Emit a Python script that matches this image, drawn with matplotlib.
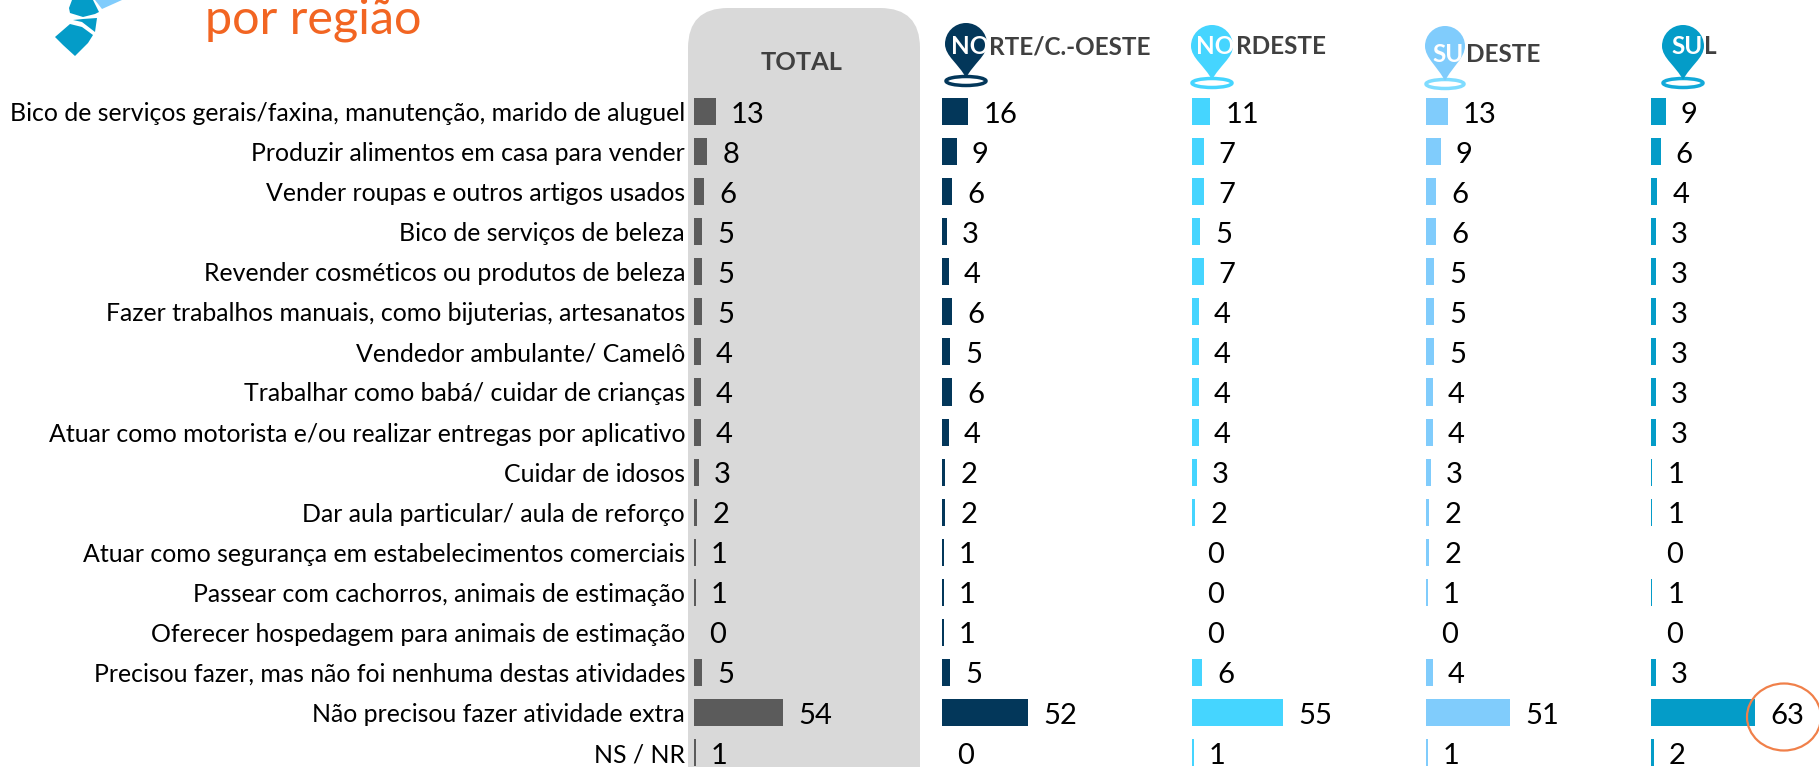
import numpy as np
import matplotlib
matplotlib.use('Agg')
import matplotlib.pyplot as plt
from matplotlib.patches import Ellipse, FancyBboxPatch, Polygon, PathPatch
from matplotlib.path import Path

W, H = 1819, 767

labels = ['Bico de serviços gerais/faxina, manutenção, marido de aluguel',
          'Produzir alimentos em casa para vender',
          'Vender roupas e outros artigos usados',
          'Bico de serviços de beleza',
          'Revender cosméticos ou produtos de beleza',
          'Fazer trabalhos manuais, como bijuterias, artesanatos',
          'Vendedor ambulante/ Camelô',
          'Trabalhar como babá/ cuidar de crianças',
          'Atuar como motorista e/ou realizar entregas por aplicativo',
          'Cuidar de idosos',
          'Dar aula particular/ aula de reforço',
          'Atuar como segurança em estabelecimentos comerciais',
          'Passear com cachorros, animais de estimação',
          'Oferecer hospedagem para animais de estimação',
          'Precisou fazer, mas não foi nenhuma destas atividades',
          'Não precisou fazer atividade extra',
          'NS / NR']

total = [13, 8, 6, 5, 5, 5, 4, 4, 4, 3, 2, 1, 1, 0, 5, 54, 1]
norte = [16, 9, 6, 3, 4, 6, 5, 6, 4, 2, 2, 1, 1, 1, 5, 52, 0]
nordeste = [11, 7, 7, 5, 7, 4, 4, 4, 4, 3, 2, 0, 0, 0, 6, 55, 1]
sudeste = [13, 9, 6, 6, 5, 5, 5, 4, 4, 3, 2, 2, 1, 0, 4, 51, 1]
sul = [9, 6, 4, 3, 3, 3, 3, 3, 3, 1, 1, 0, 1, 0, 3, 63, 2]

plt.rcParams['font.family'] = ['Lato', 'DejaVu Sans']

fig = plt.figure(figsize=(W / 100, H / 100), dpi=100)

# full figure layer in pixel coordinates, y going down
bg = fig.add_axes([0, 0, 1, 1])
bg.set_xlim(0, W)
bg.set_ylim(H, 0)
bg.axis('off')

# grey panel behind the total column
bg.add_patch(FancyBboxPatch((688 + 40, 8 + 40), 232 - 80, 900, boxstyle='round,pad=40,rounding_size=40',
                            fc='#D9D9D9', ec='none'))

# logo pieces, cut by the top edge
bg.add_patch(Polygon([[72, 0], [93, 0], [99, 12], [95, 14], [83, 17], [70, 13], [69, 8]], fc='#049CC8', ec='none'))
bg.add_patch(Polygon([[73, 20], [82, 22], [95, 32], [97, 18], [83, 19]], fc='#049CC8', ec='none'))
bg.add_patch(Polygon([[55, 37], [70, 24], [82, 27], [93, 35], [88, 43], [75, 56], [63, 45]], fc='#049CC8', ec='none'))
bg.add_patch(Polygon([[95, 0], [122, 0], [102, 9]], fc='#80CCFC', ec='none'))

bg.text(205, 33, 'por região', color='#F26522', fontsize=35, ha='left', va='baseline')
bg.text(802, 63, 'TOTAL', color='#404040', fontsize=18.3, fontweight='bold', ha='center', va='center')


def draw_pin(cx, top, w, color, ring):
    r = w / 2
    yc = top + r
    tip = top + 55
    k = 0.5523 * r
    verts = [(cx, top),
             (cx + k, top), (cx + r, yc - k), (cx + r, yc),
             (cx + r, yc + 12), (cx + 7, tip - 14), (cx, tip),
             (cx - 7, tip - 14), (cx - r, yc + 12), (cx - r, yc),
             (cx - r, yc - k), (cx - k, top), (cx, top)]
    codes = [Path.MOVETO] + [Path.CURVE4] * 12
    bg.add_patch(Ellipse((cx, top + 58), w - 2, 9, fc='white', ec=ring, lw=2.5))
    bg.add_patch(PathPatch(Path(verts, codes), fc=color, ec='none'))


def header(cx, top, w, color, ring, part1, x1, part2, x2, y):
    draw_pin(cx, top, w, color, ring)
    bg.text(x1, y, part1, color='white', fontsize=17.5, fontweight='bold', va='center')
    bg.text(x2, y, part2, color='#404040', fontsize=17.5, fontweight='bold', va='center')


header(966, 23, 42, '#03375A', '#03375A', 'NO', 951, 'RTE/C.-OESTE', 989, 47)
header(1212, 25, 42, '#45D5FF', '#45D5FF', 'NO', 1196, 'RDESTE', 1236, 47)
header(1445, 26, 40, '#80CCFC', '#7FDCFF', 'SU', 1432, 'DESTE', 1466, 55)
header(1683, 25, 42, '#049CC8', '#12A9D9', 'SU', 1671, 'L', 1704, 47)

# orange circle around the highlighted value, drawn over the bars
fig.add_artist(Ellipse((1784, 717), 74, 67, fc='none', ec='#F0804A', lw=1.6, transform=bg.transData, zorder=5))

# one axes per column, same scale everywhere
px_per_unit = 1.656
row_h = 40.07
first_y = 111.5
y = np.arange(len(labels))
top_edge = first_y - row_h / 2
bottom_edge = top_edge + row_h * len(labels)

columns = [(total, 694, '#5B5B5B'), (norte, 942, '#03375A'), (nordeste, 1192, '#45D5FF'),
           (sudeste, 1426, '#80CCFC'), (sul, 1650.7, '#049CC8')]

for i, (vals, x0, color) in enumerate(columns):
    ax = fig.add_axes([x0 / W, 1 - bottom_edge / H, 110 * px_per_unit / W, (bottom_edge - top_edge) / H])
    ax.patch.set_visible(False)
    ax.barh(y, vals, height=0.675, color=color, linewidth=0)
    ax.set_xlim(0, 110)
    ax.set_ylim(len(labels) - 0.5, -0.5)
    for s in ax.spines.values():
        s.set_visible(False)
    ax.tick_params(length=0, pad=6.4)
    ax.set_xticks([])
    if i == 0:
        ax.set_yticks(y)
        ax.set_yticklabels(labels, fontsize=17.9, color='black')
    else:
        ax.set_yticks([])
    for yi, v in zip(y, vals):
        ax.annotate(str(v), (v, yi), xytext=(15, -3), textcoords='offset pixels', fontsize=21,
                    va='center', ha='left', color='black', clip_on=False)

fig.savefig('out.png', dpi=100)
